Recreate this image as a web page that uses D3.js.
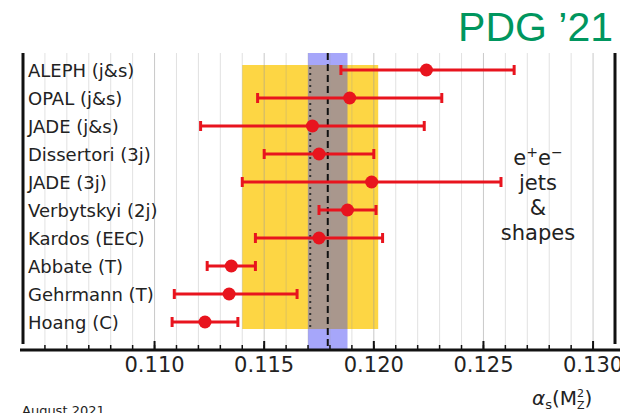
<!DOCTYPE html>
<html>
<head>
<meta charset="utf-8">
<script src="https://cdn.jsdelivr.net/npm/d3@7"></script>
<style>
  body { margin: 0; background: #fff; }
  svg { display: block; }
</style>
</head>
<body>
<svg id="chart"></svg>
<script>
const width = 620;
const height = 413;

// measurements, top to bottom
const labels = ['ALEPH (j&s)', 'OPAL (j&s)', 'JADE (j&s)', 'Dissertori (3j)', 'JADE (3j)',
    'Verbytskyi (2j)', 'Kardos (EEC)', 'Abbate (T)', 'Gehrmann (T)', 'Hoang (C)'];
const centers = [0.1224, 0.1189, 0.1172, 0.1175, 0.1199, 0.1188, 0.1175, 0.1135, 0.1134, 0.1123];
const errLow  = [0.0039, 0.0042, 0.0051, 0.0025, 0.0059, 0.0013, 0.0029, 0.0011, 0.0025, 0.0015];
const errHigh = [0.0040, 0.0042, 0.0051, 0.0025, 0.0059, 0.0013, 0.0029, 0.0011, 0.0031, 0.0015];

// world average and e+e- sub-field average
const worldAvg = [0.1179, 0.0009];
const groupAvg = [0.1171, 0.0031];

const tickValues = [0.110, 0.115, 0.120, 0.125, 0.130];
const minorTicks = d3.range(105, 131).map(d => d / 1000);

const svg = d3.select('#chart')
    .attr('width', width)
    .attr('height', height);

const plot = { left: 23, right: 615, top: 53, bottom: 350 };

const x = d3.scaleLinear()
    .domain([0.104, 0.131])
    .range([plot.left, plot.right]);

const y = d3.scalePoint()
    .domain(labels)
    .range([70, 322]);

const rowTop = 65, rowBottom = 329;

// bands
const wLo = worldAvg[0] - worldAvg[1], wHi = worldAvg[0] + worldAvg[1];
const gLo = groupAvg[0] - groupAvg[1], gHi = groupAvg[0] + groupAvg[1];

svg.append('rect')
    .attr('x', x(wLo)).attr('width', x(wHi) - x(wLo))
    .attr('y', plot.top).attr('height', plot.bottom - plot.top)
    .attr('fill', '#a6a6fa');

svg.append('rect')
    .attr('x', x(gLo)).attr('width', x(gHi) - x(gLo))
    .attr('y', rowTop).attr('height', rowBottom - rowTop)
    .attr('fill', '#fdd644');

// overlap of both bands
const oLo = Math.max(wLo, gLo), oHi = Math.min(wHi, gHi);
svg.append('rect')
    .attr('x', x(oLo)).attr('width', x(oHi) - x(oLo))
    .attr('y', rowTop).attr('height', rowBottom - rowTop)
    .attr('fill', '#a9978d');

// grid
svg.selectAll('line.grid')
    .data(minorTicks)
    .join('line')
    .attr('class', 'grid')
    .attr('x1', d => x(d)).attr('x2', d => x(d))
    .attr('y1', plot.top).attr('y2', plot.bottom)
    .attr('stroke', '#9a9a9a')
    .attr('stroke-opacity', d => tickValues.some(t => Math.abs(t - d) < 1e-9) ? 0.55 : 0.3)
    .attr('stroke-width', 1);

// average lines
svg.append('line')
    .attr('x1', x(worldAvg[0])).attr('x2', x(worldAvg[0]))
    .attr('y1', plot.top).attr('y2', plot.bottom)
    .attr('stroke', '#111').attr('stroke-width', 2)
    .attr('stroke-dasharray', '7,4');

svg.append('line')
    .attr('x1', x(groupAvg[0])).attr('x2', x(groupAvg[0]))
    .attr('y1', rowTop + 2).attr('y2', rowBottom)
    .attr('stroke', '#333').attr('stroke-width', 2)
    .attr('stroke-dasharray', '2,4');

// error bars
const red = '#e8141e';
const rows = labels.map((name, i) => ({ name, c: centers[i], lo: centers[i] - errLow[i], hi: centers[i] + errHigh[i] }));

svg.selectAll('line.err')
    .data(rows)
    .join('line')
    .attr('class', 'err')
    .attr('x1', d => x(d.lo)).attr('x2', d => x(d.hi))
    .attr('y1', d => y(d.name)).attr('y2', d => y(d.name))
    .attr('stroke', red).attr('stroke-width', 3);

['lo', 'hi'].forEach(k => {
    svg.selectAll('line.cap-' + k)
        .data(rows)
        .join('line')
        .attr('class', 'cap-' + k)
        .attr('x1', d => x(d[k])).attr('x2', d => x(d[k]))
        .attr('y1', d => y(d.name) - 5).attr('y2', d => y(d.name) + 5)
        .attr('stroke', red).attr('stroke-width', 3);
});

svg.selectAll('circle.pt')
    .data(rows)
    .join('circle')
    .attr('class', 'pt')
    .attr('cx', d => x(d.c)).attr('cy', d => y(d.name))
    .attr('r', 6.5)
    .attr('fill', red);

// labels
svg.selectAll('text.lab')
    .data(labels)
    .join('text')
    .attr('class', 'lab')
    .attr('x', 28)
    .attr('y', d => y(d) + 7)
    .attr('font-family', 'DejaVu Sans')
    .attr('font-size', 18)
    .attr('fill', '#222')
    .text(d => d);

// frame
svg.append('line')
    .attr('x1', plot.left).attr('x2', plot.left)
    .attr('y1', plot.top).attr('y2', plot.bottom - 6)
    .attr('stroke', '#111').attr('stroke-width', 3);
svg.append('line')
    .attr('x1', plot.right).attr('x2', plot.right)
    .attr('y1', plot.top).attr('y2', plot.bottom - 6)
    .attr('stroke', '#111').attr('stroke-width', 3);

// bottom axis
const axisG = svg.append('g')
    .attr('transform', `translate(0,${plot.bottom})`);

axisG.append('line')
    .attr('x1', 20).attr('x2', width)
    .attr('stroke', '#111').attr('stroke-width', 3);

axisG.selectAll('line.minor')
    .data(minorTicks)
    .join('line')
    .attr('class', 'minor')
    .attr('x1', d => x(d)).attr('x2', d => x(d))
    .attr('y1', 0).attr('y2', -5)
    .attr('stroke', '#111').attr('stroke-width', 1.5);

axisG.selectAll('line.major')
    .data(tickValues)
    .join('line')
    .attr('class', 'major')
    .attr('x1', d => x(d)).attr('x2', d => x(d))
    .attr('y1', 0).attr('y2', -9)
    .attr('stroke', '#111').attr('stroke-width', 2);

axisG.selectAll('text.tick')
    .data(tickValues)
    .join('text')
    .attr('class', 'tick')
    .attr('x', d => x(d))
    .attr('y', 22)
    .attr('text-anchor', 'middle')
    .attr('font-family', 'DejaVu Sans')
    .attr('font-size', 21)
    .attr('fill', '#222')
    .text(d3.format('.3f'));

// annotation
const note = svg.append('text')
    .attr('font-family', 'DejaVu Sans')
    .attr('font-size', 21)
    .attr('fill', '#222')
    .attr('text-anchor', 'middle');

const ee = note.append('tspan').attr('x', 538).attr('y', 165);
ee.append('tspan').text('e');
ee.append('tspan').attr('font-size', 14).attr('dy', -8).text('+');
ee.append('tspan').attr('dy', 8).text('e');
ee.append('tspan').attr('font-size', 14).attr('dy', -8).text('−');
note.append('tspan').attr('x', 538).attr('y', 190).text('jets');
note.append('tspan').attr('x', 538).attr('y', 215).text('&');
note.append('tspan').attr('x', 538).attr('y', 240).text('shapes');

// title
svg.append('text')
    .attr('x', 613)
    .attr('y', 41)
    .attr('text-anchor', 'end')
    .attr('font-family', 'Liberation Sans')
    .attr('font-size', 41)
    .attr('fill', '#00965e')
    .text('PDG ’21');

// x-axis label
const xl = svg.append('text')
    .attr('x', 532)
    .attr('y', 405)
    .attr('font-family', 'DejaVu Sans')
    .attr('font-size', 20)
    .attr('fill', '#222');
xl.append('tspan').attr('font-style', 'italic').text('α');
xl.append('tspan').attr('font-size', 13).attr('dy', 4).text('s');
xl.append('tspan').attr('dy', -4).text('(M');
xl.append('tspan').attr('font-size', 11).attr('dy', -8).text('2');
xl.append('tspan').attr('font-size', 11).attr('dx', -7).attr('dy', 12).text('Z');
xl.append('tspan').attr('dy', -4).text(')');

svg.append('text')
    .attr('x', 22)
    .attr('y', 415)
    .attr('font-family', 'DejaVu Sans')
    .attr('font-size', 13)
    .attr('fill', '#222')
    .text('August 2021');
</script>
</body>
</html>
